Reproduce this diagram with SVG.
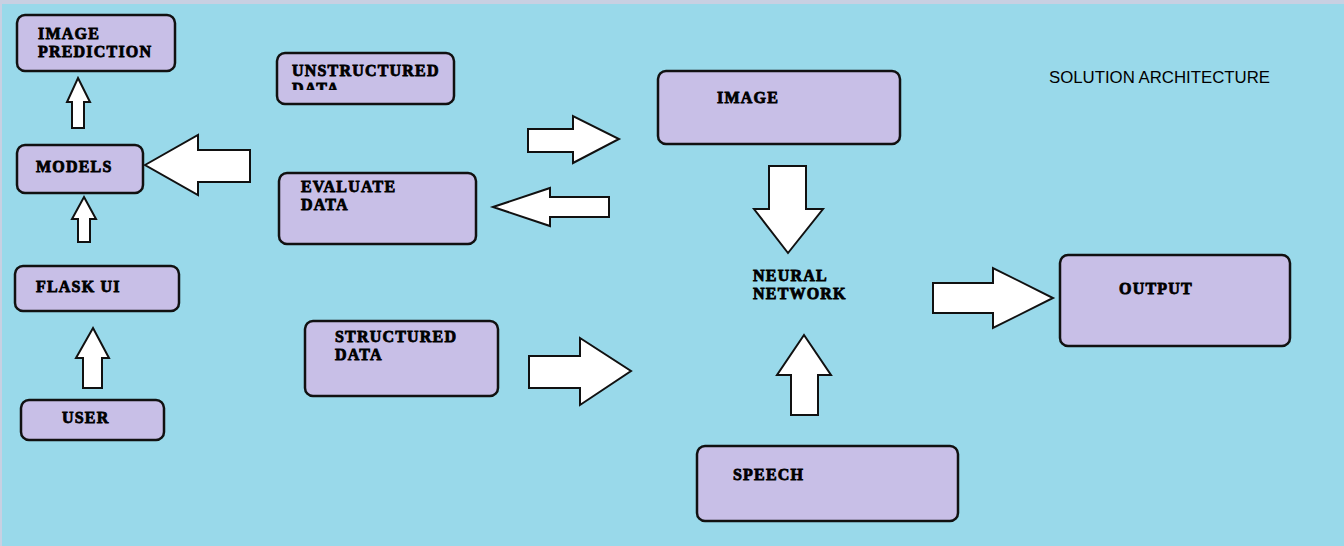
<svg xmlns="http://www.w3.org/2000/svg" width="1344" height="546" viewBox="0 0 1344 546">
  <style>
    .box{fill:#C8BFE7;stroke:#111;stroke-width:2.5}
    .arr{fill:#fff;stroke:#111;stroke-width:2;stroke-linejoin:miter}
    .lbl{font-family:"Liberation Serif",serif;font-weight:bold;font-size:16px;letter-spacing:1.2px;fill:#000;stroke:#000;stroke-width:0.8}
    .title{font-family:"Liberation Sans",Arial,sans-serif;font-size:16.8px;fill:#000}
  </style>
  <defs>
    <clipPath id="clipUnstr"><rect x="276" y="52" width="178" height="38"/></clipPath>
  </defs>
  <rect x="0" y="0" width="1344" height="546" fill="#C8D0E2"/>
  <rect x="2" y="4" width="1342" height="542" fill="#99D9EA"/>

  <g id="connectors">
    <polygon class="arr" points="78,78 90,102 84,102 84,128 72,128 72,102 67,102"/>
    <polygon class="arr" points="84,197 96,219 90,219 90,242 78,242 78,219 72,219"/>
    <polygon class="arr" points="145,165 198,135 198,150 250,150 250,182 198,182 198,195"/>
    <polygon class="arr" points="93,328 109,358 102,358 102,388 83,388 83,358 76,358"/>
    <polygon class="arr" points="528,129 573,129 573,116 619,139 573,163 573,152 528,152"/>
    <polygon class="arr" points="493,207 550,188 550,197 609,197 609,217 550,217 550,226"/>
    <polygon class="arr" points="769,166 806,166 806,209 823,209 788,253 754,209 769,209"/>
    <polygon class="arr" points="933,283 993,283 993,268 1053,298 993,328 993,313 933,313"/>
    <polygon class="arr" points="529,356 580,356 580,338 631,371 580,405 580,388 529,388"/>
    <polygon class="arr" points="804,335 831,375 818,375 818,415 791,415 791,375 777,375"/>
  </g>

  <g id="image-prediction">
    <rect class="box" x="17" y="15" width="158" height="56" rx="8"/>
    <text class="lbl" x="38" y="39">IMAGE</text>
    <text class="lbl" x="38" y="57">PREDICTION</text>
  </g>
  <g id="models">
    <rect class="box" x="17" y="145" width="126" height="48" rx="8"/>
    <text class="lbl" x="36" y="172">MODELS</text>
  </g>
  <g id="flask-ui">
    <rect class="box" x="15" y="266" width="164" height="45" rx="8"/>
    <text class="lbl" x="36" y="292">FLASK UI</text>
  </g>
  <g id="user">
    <rect class="box" x="21" y="400" width="143" height="40" rx="8"/>
    <text class="lbl" x="62" y="423">USER</text>
  </g>
  <g id="unstructured-data">
    <rect class="box" x="277" y="53" width="177" height="51" rx="8"/>
    <g clip-path="url(#clipUnstr)">
      <text class="lbl" x="292" y="76">UNSTRUCTURED</text>
      <text class="lbl" x="292" y="94">DATA</text>
    </g>
  </g>
  <g id="evaluate-data">
    <rect class="box" x="279" y="173" width="197" height="71" rx="8"/>
    <text class="lbl" x="301" y="192">EVALUATE</text>
    <text class="lbl" x="301" y="210">DATA</text>
  </g>
  <g id="structured-data">
    <rect class="box" x="305" y="321" width="193" height="75" rx="8"/>
    <text class="lbl" x="335" y="342">STRUCTURED</text>
    <text class="lbl" x="335" y="360">DATA</text>
  </g>
  <g id="image">
    <rect class="box" x="658" y="71" width="242" height="73" rx="8"/>
    <text class="lbl" x="717" y="103">IMAGE</text>
  </g>
  <g id="neural-network">
    <text class="lbl" x="753" y="281">NEURAL</text>
    <text class="lbl" x="753" y="299">NETWORK</text>
  </g>
  <g id="speech">
    <rect class="box" x="697" y="446" width="261" height="75" rx="8"/>
    <text class="lbl" x="733" y="480">SPEECH</text>
  </g>
  <g id="output">
    <rect class="box" x="1060" y="255" width="230" height="91" rx="8"/>
    <text class="lbl" x="1119" y="294">OUTPUT</text>
  </g>
  <g id="title">
    <text class="title" x="1049" y="83">SOLUTION ARCHITECTURE</text>
  </g>
</svg>
